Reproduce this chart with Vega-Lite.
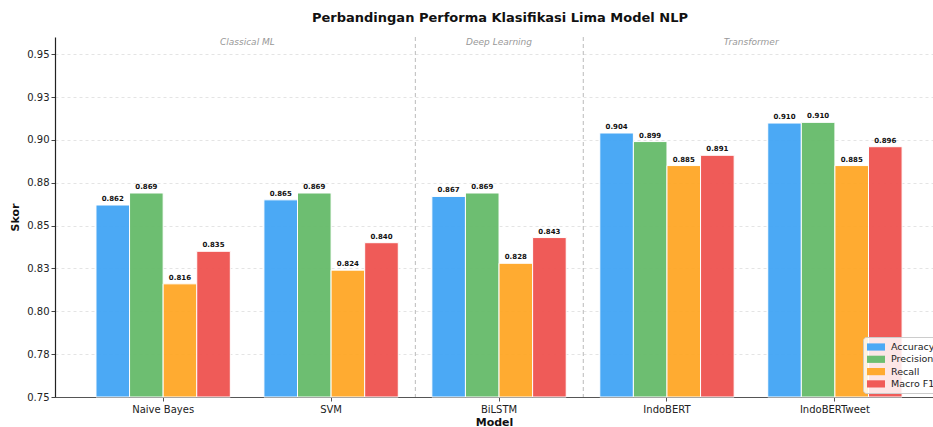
{
  "$schema": "https://vega.github.io/schema/vega-lite/v6.json",
  "autosize": {"type": "none"},
  "padding": {"left": 55, "top": 37, "right": 0, "bottom": 30},
  "width": 878,
  "height": 360,
  "background": "white",
  "title": {"text": "Perbandingan Performa Klasifikasi Lima Model NLP", "font": "DejaVu Sans", "fontSize": 13, "fontWeight": "bold", "color": "#111", "anchor": "middle", "offset": 12, "dx": 6},
  "config": {"view": {"stroke": null}, "font": "DejaVu Sans"},
  "datasets": {
    "scores": [
      {"model": "Naive Bayes", "metric": "Accuracy", "value": 0.862},
      {"model": "Naive Bayes", "metric": "Precision", "value": 0.869},
      {"model": "Naive Bayes", "metric": "Recall", "value": 0.816},
      {"model": "Naive Bayes", "metric": "Macro F1", "value": 0.835},
      {"model": "SVM", "metric": "Accuracy", "value": 0.865},
      {"model": "SVM", "metric": "Precision", "value": 0.869},
      {"model": "SVM", "metric": "Recall", "value": 0.824},
      {"model": "SVM", "metric": "Macro F1", "value": 0.840},
      {"model": "BiLSTM", "metric": "Accuracy", "value": 0.867},
      {"model": "BiLSTM", "metric": "Precision", "value": 0.869},
      {"model": "BiLSTM", "metric": "Recall", "value": 0.828},
      {"model": "BiLSTM", "metric": "Macro F1", "value": 0.843},
      {"model": "IndoBERT", "metric": "Accuracy", "value": 0.904},
      {"model": "IndoBERT", "metric": "Precision", "value": 0.899},
      {"model": "IndoBERT", "metric": "Recall", "value": 0.885},
      {"model": "IndoBERT", "metric": "Macro F1", "value": 0.891},
      {"model": "IndoBERTweet", "metric": "Accuracy", "value": 0.9098},
      {"model": "IndoBERTweet", "metric": "Precision", "value": 0.9102},
      {"model": "IndoBERTweet", "metric": "Recall", "value": 0.885},
      {"model": "IndoBERTweet", "metric": "Macro F1", "value": 0.896}
    ],
    "groupsSide": [
      {"model": "Naive Bayes", "label": "Classical ML"},
      {"model": "IndoBERT", "label": "Transformer"}
    ],
    "groupsMid": [
      {"model": "BiLSTM", "label": "Deep Learning"}
    ],
    "seps": [
      {"model": "SVM"},
      {"model": "BiLSTM"}
    ]
  },
  "encoding": {
    "x": {
      "field": "model", "type": "nominal",
      "sort": ["Naive Bayes", "SVM", "BiLSTM", "IndoBERT", "IndoBERTweet"],
      "scale": {"domain": ["Naive Bayes", "SVM", "BiLSTM", "IndoBERT", "IndoBERTweet"], "paddingInner": 0.2, "paddingOuter": 0.214, "align": 0.57},
      "axis": {"title": "Model", "titleFontWeight": "bold", "titleFontSize": 11, "titleColor": "#111", "titlePadding": 2, "labelAngle": 0, "labelFontSize": 10, "labelColor": "#222", "labelPadding": 3, "domainColor": "#555", "domainWidth": 1.2, "tickColor": "#555", "tickSize": 4, "grid": false}
    }
  },
  "layer": [
    {
      "data": {"name": "scores"},
      "mark": {"type": "bar", "stroke": "white", "strokeWidth": 1, "opacity": 0.95},
      "encoding": {
        "xOffset": {"field": "metric", "type": "nominal", "sort": ["Accuracy", "Precision", "Recall", "Macro F1"], "scale": {"paddingInner": 0, "paddingOuter": 0}},
        "y": {
          "field": "value", "type": "quantitative",
          "scale": {"domain": [0.75, 0.96], "nice": false, "zero": false},
          "axis": {"title": "Skor", "titleFontWeight": "bold", "titleFontSize": 11, "titleColor": "#111", "titlePadding": 6, "values": [0.75, 0.775, 0.8, 0.825, 0.85, 0.875, 0.9, 0.925, 0.95], "labelExpr": "format(datum.value + 0.0001, '.2f')", "labelFontSize": 10, "labelColor": "#222", "domainColor": "#222", "domainWidth": 1.2, "tickColor": "#444", "tickSize": 4, "grid": true, "gridColor": "#dddddd", "gridDash": [3, 3], "gridWidth": 0.8}
        },
        "y2": {"datum": 0.75},
        "color": {
          "field": "metric", "type": "nominal",
          "scale": {"domain": ["Accuracy", "Precision", "Recall", "Macro F1"], "range": ["#42A5F5", "#66BB6A", "#FFA726", "#EF5350"]},
          "legend": {"title": null, "orient": "none", "legendX": 808, "legendY": 300, "direction": "vertical", "symbolType": "M-1.5,-0.6H1.5V0.6H-1.5Z", "symbolSize": 144, "symbolOffset": 3, "symbolStrokeWidth": 0, "labelOffset": 9, "labelFontSize": 9.5, "labelColor": "#222", "rowPadding": 1.3, "padding": 4, "fillColor": "rgba(255,255,255,0.85)", "strokeColor": "#cccccc", "cornerRadius": 3}
        }
      }
    },
    {
      "data": {"name": "scores"},
      "mark": {"type": "text", "baseline": "bottom", "dy": -3, "fontSize": 7, "fontWeight": "bold", "color": "#111"},
      "encoding": {
        "xOffset": {"field": "metric", "type": "nominal", "sort": ["Accuracy", "Precision", "Recall", "Macro F1"], "scale": {"paddingInner": 0, "paddingOuter": 0}},
        "y": {"field": "value", "type": "quantitative"},
        "text": {"field": "value", "type": "quantitative", "format": ".3f"}
      }
    },
    {
      "data": {"name": "seps"},
      "mark": {"type": "rule", "color": "#bbbbbb", "strokeDash": [4, 3], "strokeWidth": 1},
      "encoding": {
        "x": {"field": "model", "type": "nominal", "bandPosition": 1.127}
      }
    },
    {
      "data": {"name": "groupsSide"},
      "mark": {"type": "text", "fontSize": 9, "fontStyle": "italic", "color": "#999999", "baseline": "middle"},
      "encoding": {
        "x": {"field": "model", "type": "nominal", "bandPosition": 1.127},
        "y": {"datum": 0.957},
        "text": {"field": "label"}
      }
    },
    {
      "data": {"name": "groupsMid"},
      "mark": {"type": "text", "fontSize": 9, "fontStyle": "italic", "color": "#999999", "baseline": "middle"},
      "encoding": {
        "x": {"field": "model", "type": "nominal", "bandPosition": 0.5},
        "y": {"datum": 0.957},
        "text": {"field": "label"}
      }
    }
  ]
}
